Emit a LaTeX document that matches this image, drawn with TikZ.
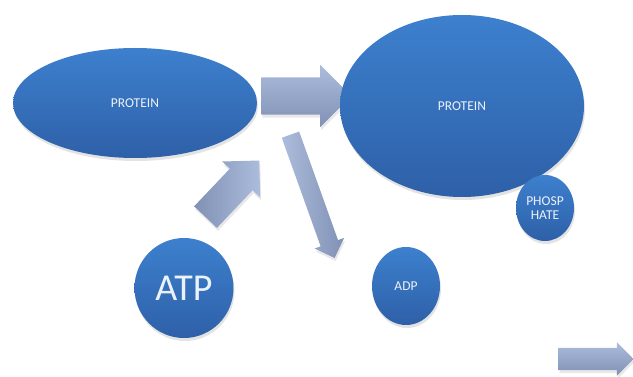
\documentclass[tikz,border=0pt]{standalone}
\usepackage{fontspec}
\setmainfont{Carlito}
\usetikzlibrary{shapes.geometric,shapes.arrows,shadows}
\definecolor{blobtop}{RGB}{61,128,206}
\definecolor{blobbot}{RGB}{46,96,168}
\definecolor{arrtop}{RGB}{172,188,220}
\definecolor{arrbot}{RGB}{128,145,180}
\definecolor{txt}{RGB}{236,242,250}
\tikzset{
  blob/.style={ellipse,inner sep=0pt,top color=blobtop,bottom color=blobbot,
    text=txt,font=\fontsize{13.5}{14}\selectfont,align=center,
    drop shadow={opacity=0.22,shadow xshift=1pt,shadow yshift=-3pt}},
  blockarrow/.style={single arrow,inner xsep=0pt,single arrow head indent=0pt,
    drop shadow={opacity=0.18,shadow xshift=1pt,shadow yshift=-3pt}}
}
\begin{document}
\begin{tikzpicture}[x=1pt,y=-1pt]
    \useasboundingbox (0,0) rectangle (633,377);
    % block arrows
    \node[blockarrow,top color=arrtop,bottom color=arrbot,inner ysep=18.5pt,
      single arrow head extend=12.5pt,minimum height=90pt] (push) at (297,96) {};
    \node[blockarrow,rotate=46.5,left color=arrbot,right color=arrtop,inner ysep=15.5pt,
      single arrow head extend=10.5pt,minimum height=78pt] (feed) at (227,194.5) {};
    \node[blockarrow,rotate=-70.3,left color=arrtop,right color=arrbot,inner ysep=9pt,
      single arrow head extend=6.5pt,minimum height=131pt] (drop) at (311,192) {};
    \node[blockarrow,top color=arrtop,bottom color=arrbot,inner ysep=11pt,
      single arrow head extend=5.5pt,minimum height=75pt] (next) at (590.5,359) {};
    % molecules
    \node[blob,minimum width=244pt,minimum height=110pt] (prot1) at (135,103) {PROTEIN};
    \node[blob,minimum width=244pt,minimum height=182pt] (prot2) at (462,106) {PROTEIN};
    \node[blob,minimum width=58pt,minimum height=66pt] (phos) at (545,208) {PHOSP\\HATE};
    \node[blob,minimum width=99pt,minimum height=100pt,font=\fontsize{38}{40}\selectfont] (atp) at (184,288) {ATP};
    \node[blob,minimum width=68pt,minimum height=78pt] (adp) at (406,286) {ADP};
\end{tikzpicture}
\end{document}
